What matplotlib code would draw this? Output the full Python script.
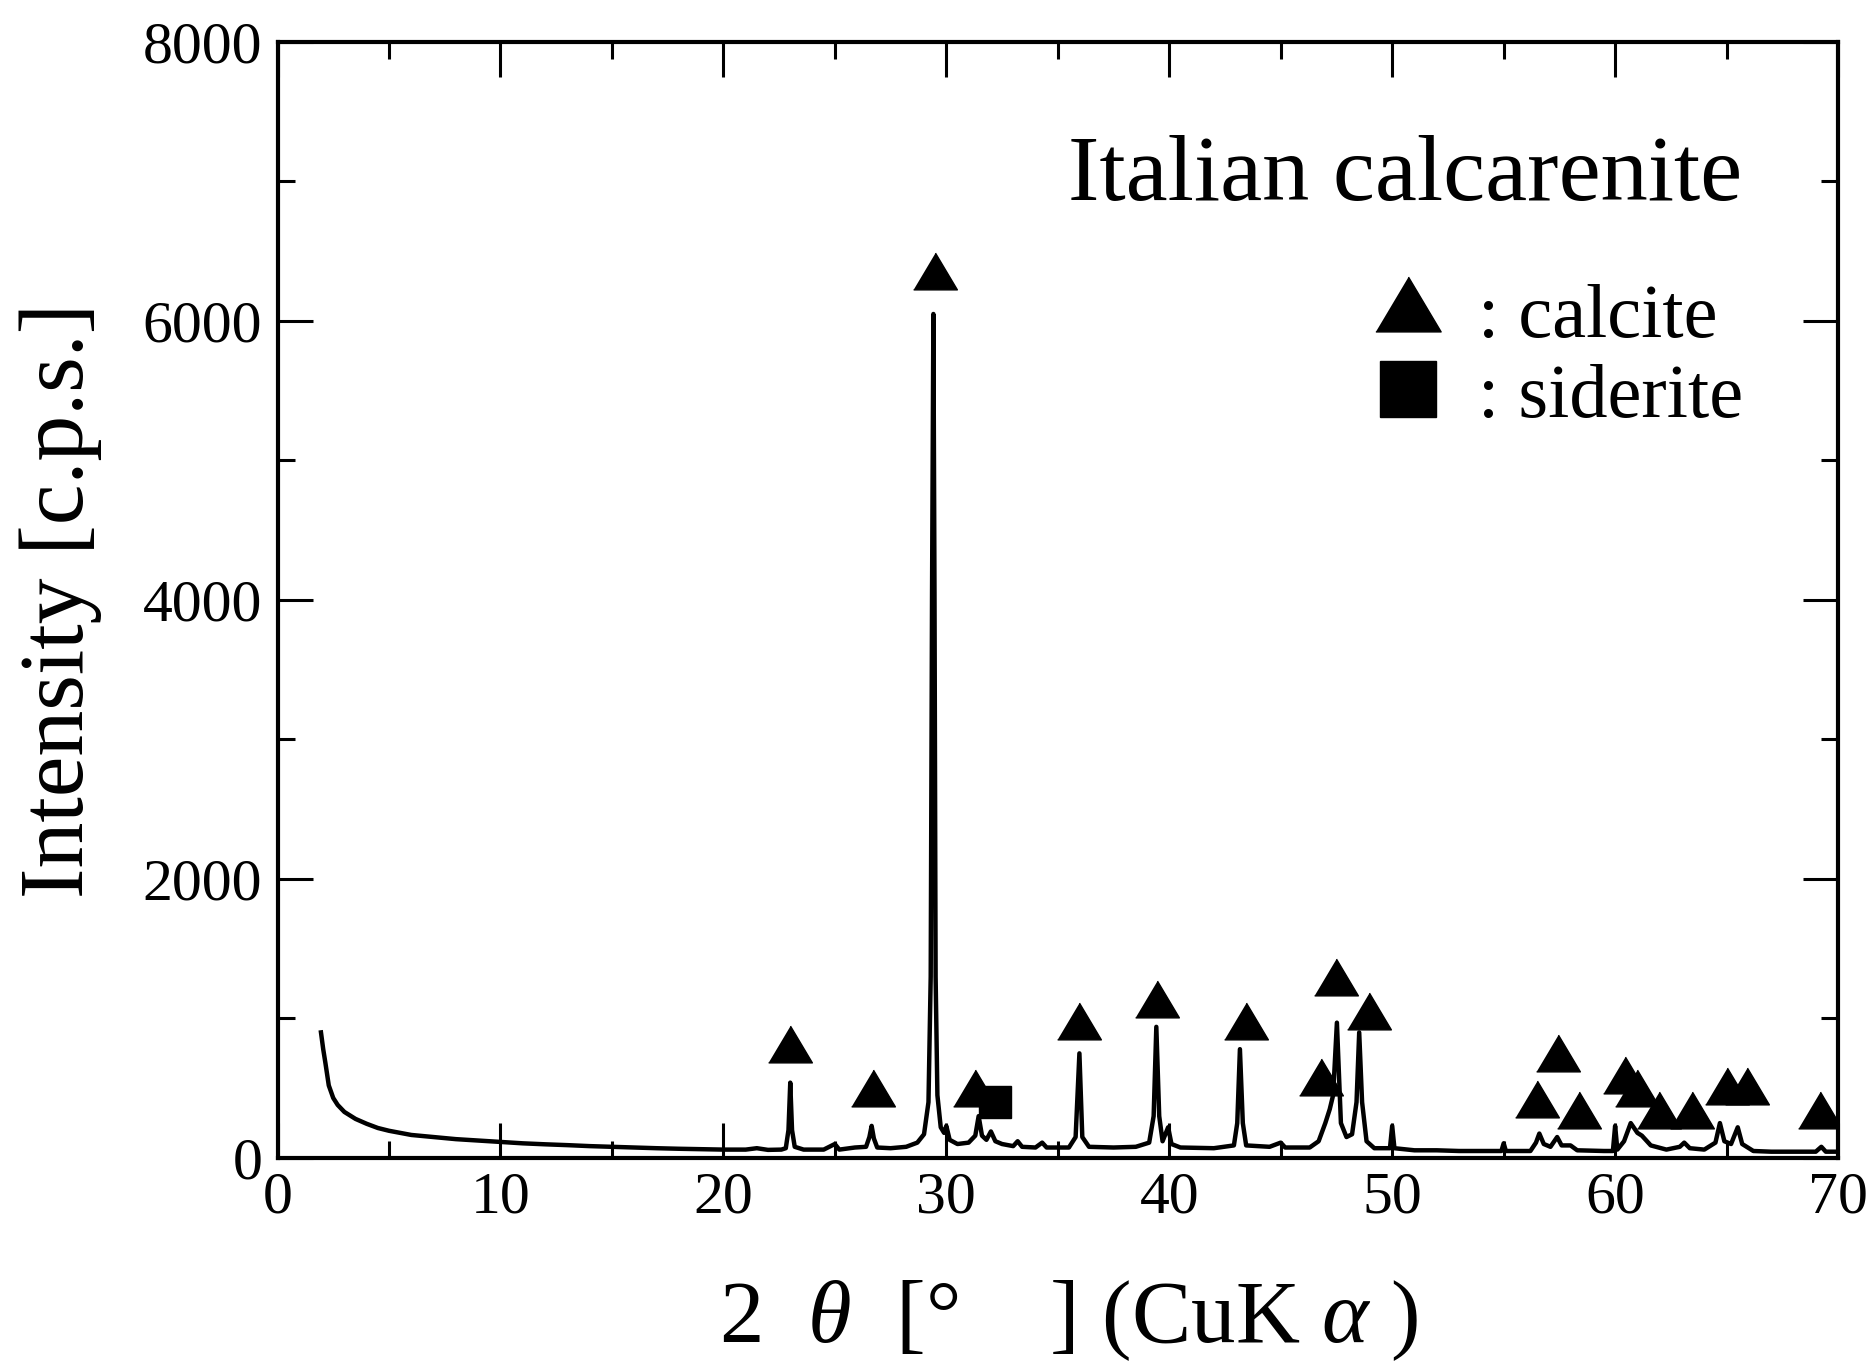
import matplotlib
matplotlib.use("Agg")
import matplotlib.pyplot as plt
from matplotlib.ticker import MultipleLocator

plt.rcParams['font.family'] = ['Liberation Serif', 'DejaVu Serif']
plt.rcParams['mathtext.fontset'] = 'custom'
plt.rcParams['mathtext.rm'] = 'Liberation Serif'
plt.rcParams['mathtext.it'] = 'Liberation Serif:italic'

# diffraction pattern (2theta [deg], intensity [c.p.s.])
two_theta = [1.95, 2.05, 2.15, 2.3, 2.5, 2.7, 3.0, 3.5, 4.0, 4.5, 5.0, 5.5, 6.0, 7.0,
             8.0, 9.0, 10.0, 11.0, 12.0, 13.0, 14.0, 15.0, 16.0, 17.0, 18.0, 19.0,
             20.0, 21.0, 21.5, 22.0, 22.6, 22.8, 22.92, 23.0, 23.08, 23.2, 23.6,
             24.5, 25.0, 25.2, 25.9, 26.4, 26.55, 26.65, 26.75, 26.9, 27.5, 28.2,
             28.7, 29.0, 29.2, 29.3, 29.36, 29.42, 29.47, 29.52, 29.6, 29.75, 29.9,
             30.0, 30.15, 30.5, 31.0, 31.3, 31.45, 31.6, 31.8, 32.0, 32.2, 32.5,
             33.0, 33.2, 33.4, 34.0, 34.3, 34.5, 35.5, 35.8, 35.97, 36.1, 36.4,
             37.5, 38.5, 39.1, 39.3, 39.42, 39.55, 39.7, 39.95, 40.1, 40.5, 42.0,
             42.9, 43.05, 43.17, 43.3, 43.45, 44.5, 45.0, 45.2, 46.3, 46.7, 47.0,
             47.2, 47.35, 47.52, 47.7, 47.95, 48.2, 48.4, 48.52, 48.65, 48.85,
             49.2, 49.9, 50.0, 50.1, 51.0, 52.0, 53.0, 54.0, 54.9, 55.0, 55.1,
             56.2, 56.45, 56.6, 56.8, 57.1, 57.4, 57.6, 58.0, 58.3, 59.5, 59.9,
             60.0, 60.1, 60.4, 60.7, 61.0, 61.2, 61.6, 62.3, 62.9, 63.1, 63.35,
             64.0, 64.5, 64.7, 64.9, 65.2, 65.5, 65.7, 66.2, 67.0, 68.0, 69.0,
             69.25, 69.45, 70.0]
intensity = [900, 780, 680, 520, 430, 380, 330, 280, 245, 215, 195, 180, 165, 150,
             135, 125, 115, 105, 98, 92, 85, 80, 75, 70, 66, 63,
             60, 60, 70, 58, 60, 70, 200, 540, 200, 80, 60,
             60, 100, 60, 75, 80, 150, 230, 140, 75, 70, 80,
             110, 170, 400, 1300, 4050, 6050, 4050, 1300, 450, 220, 180,
             230, 130, 100, 110, 160, 300, 160, 130, 190, 120, 100,
             85, 120, 80, 75, 110, 75, 75, 150, 750, 150, 80,
             75, 80, 110, 300, 940, 300, 120, 220, 100, 75, 70,
             90, 250, 780, 250, 90, 80, 110, 75, 75, 120, 250,
             350, 450, 970, 250, 150, 170, 400, 900, 400, 120,
             70, 70, 230, 70, 55, 55, 50, 50, 50, 105, 50,
             50, 110, 175, 100, 80, 150, 90, 90, 55, 50, 50,
             230, 60, 120, 250, 180, 160, 90, 60, 80, 110, 70,
             60, 110, 250, 120, 100, 220, 100, 50, 45, 45, 45,
             80, 45, 45]

# peak markers
calcite_x = [23.0, 26.7, 29.5, 31.3, 35.97, 39.47, 43.45, 46.8, 47.47, 48.95,
             56.5, 57.46, 58.4, 60.45, 61.0, 61.95, 63.45, 65.0, 65.9, 69.2]
calcite_y = [820, 505, 6360, 500, 985, 1138, 985, 583, 1300, 1056,
             421, 750, 344, 595, 500, 344, 344, 513, 513, 344]
siderite_x = [32.2]
siderite_y = [404]

tri = [(-1, -0.84), (1, -0.84), (0, 0.84)]

fig = plt.figure(figsize=(18.75, 13.62), dpi=100)
ax = fig.add_axes([0.148, 0.1498, 0.8323, 0.8194])

ax.plot(two_theta, intensity, color='black', lw=3.2)
ax.plot(calcite_x, calcite_y, ls='none', marker=tri, ms=31.5, color='black')
ax.plot(siderite_x, siderite_y, ls='none', marker='s', ms=23.5, color='black')

ax.set_xlim(0, 70)
ax.set_ylim(0, 8000)
ax.xaxis.set_major_locator(MultipleLocator(10))
ax.xaxis.set_minor_locator(MultipleLocator(5))
ax.yaxis.set_major_locator(MultipleLocator(2000))
ax.yaxis.set_minor_locator(MultipleLocator(1000))
ax.tick_params(which='both', direction='in', top=True, right=True, width=2.2)
ax.tick_params(which='major', length=25, labelsize=43)
ax.tick_params(which='minor', length=12)
ax.tick_params(axis='y', pad=11)
ax.tick_params(axis='x', pad=10)
for sp in ax.spines.values():
    sp.set_linewidth(3)

ax.set_xlabel("2  $\\theta$  [°    ] (CuK $\\alpha$ )", fontsize=64, va='baseline')
ax.xaxis.set_label_coords(0.507, -0.165)
ax.set_ylabel("Intensity [c.p.s.]", fontsize=66, va='center')
ax.yaxis.set_label_coords(-0.139, 0.5)

ax.text(0.9385, 0.858, "Italian calcarenite", transform=ax.transAxes,
        fontsize=68, ha='right', va='baseline')

# legend drawn by hand
ax.plot([0.7245], [0.7656], transform=ax.transAxes, marker=tri, ms=47,
        color='black', clip_on=False)
ax.plot([0.7245], [0.6886], transform=ax.transAxes, marker='s', ms=40,
        color='black', clip_on=False)
ax.text(0.769, 0.7357, ": calcite", transform=ax.transAxes, fontsize=55,
        va='baseline')
ax.text(0.769, 0.664, ": siderite", transform=ax.transAxes, fontsize=55,
        va='baseline')

fig.savefig("out.png", dpi=100)
